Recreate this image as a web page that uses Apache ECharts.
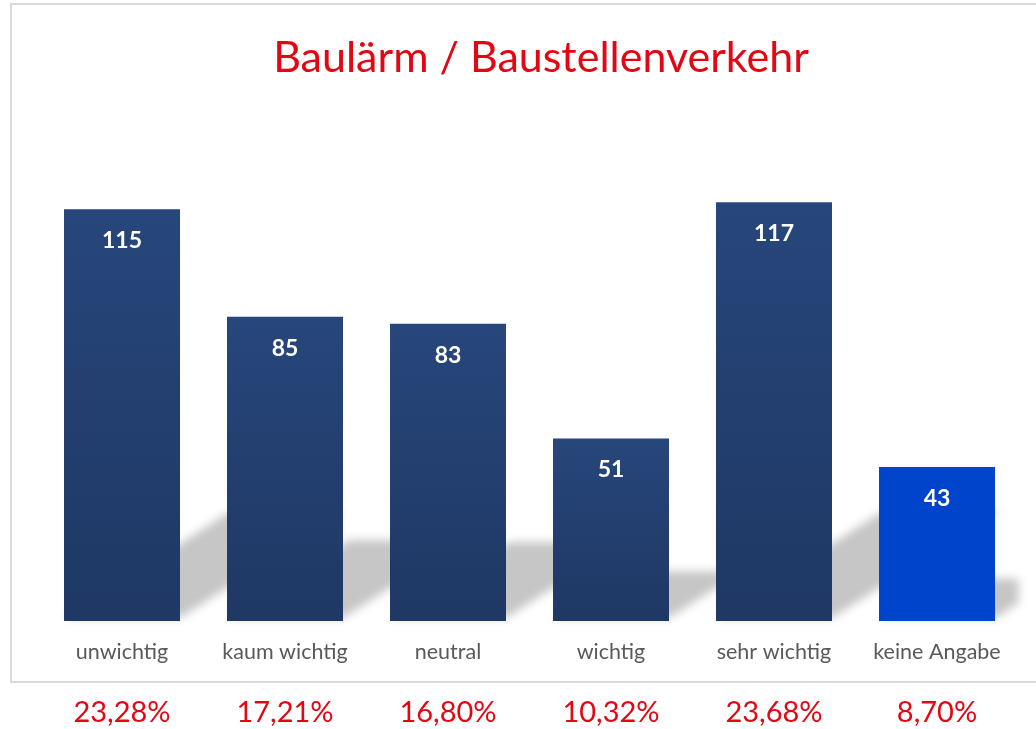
<!DOCTYPE html>
<html>
<head>
<meta charset="utf-8">
<title>Baulärm / Baustellenverkehr</title>
<script src="https://cdn.jsdelivr.net/npm/echarts@6/dist/echarts.min.js"></script>
<style>
  html, body { margin: 0; padding: 0; background: #fff; }
  #chart { width: 1036px; height: 729px; }
</style>
</head>
<body>
<div id="chart"></div>
<script>
// Werte aus der Grafik
const categories = ['unwichtig', 'kaum wichtig', 'neutral', 'wichtig', 'sehr wichtig', 'keine Angabe']
const counts = [115, 85, 83, 51, 117, 43]
const percents = ['23,28%', '17,21%', '16,80%', '10,32%', '23,68%', '8,70%']

const chart = echarts.init(document.getElementById('chart'))

const barWidth = 116
const navy = new echarts.graphic.LinearGradient(0, 0, 0, 1, [
  { offset: 0, color: '#27467b' },
  { offset: 1, color: '#1f3864' },
])

// Polygon an senkrechter Linie x = maxX abschneiden
function clipRight(points, maxX) {
  const out = []
  for (let k = 0; k < points.length; k++) {
    const p = points[k]
    const q = points[(k + 1) % points.length]
    const pin = p[0] <= maxX
    const qin = q[0] <= maxX
    if (pin) out.push(p)
    if (pin !== qin) {
      const t = (maxX - p[0]) / (q[0] - p[0])
      out.push([maxX, p[1] + t * (q[1] - p[1])])
    }
  }
  return out
}

// Schatten hinter den Balken (perspektivisch nach rechts oben, weichgezeichnet)
const far = 3000
function renderShadow(params, api) {
  const i = api.value(0)
  const base = api.coord([i, 0])
  const top = api.coord([i, api.value(1)])
  const h = base[1] - top[1]
  const L = base[0] - barWidth / 2
  const R = base[0] + barWidth / 2
  const B = base[1] - 3
  const dx = 0.4 * h
  const dy = 0.256 * h
  const maxX = params.coordSys.x + params.coordSys.width
  const pts = clipRight(
    [
      [L, B],
      [R, B],
      [R + dx, B - dy],
      [L + dx, B - dy],
    ],
    maxX
  ).map((p) => [p[0] - far, p[1]])
  return {
    type: 'polygon',
    shape: { points: pts },
    style: {
      fill: '#000',
      shadowBlur: 10,
      shadowOffsetX: far,
      shadowColor: '#c6c6c6',
    },
  }
}

const option = {
  animation: false,
  textStyle: { fontFamily: 'Lato' },
  title: {
    text: 'Baulärm / Baustellenverkehr',
    left: 536,
    top: 32,
    textAlign: 'center',
    textStyle: {
      color: '#e30613',
      fontSize: 43,
      fontWeight: 'normal',
      fontFamily: 'Lato',
    },
  },
  graphic: [
    {
      type: 'rect',
      z: -10,
      shape: { x: 11, y: 4, width: 1060, height: 678 },
      style: { fill: 'none', stroke: '#d9d9d9', lineWidth: 2 },
    },
  ],
  grid: {
    left: 40.5,
    right: 17.5,
    top: 84,
    bottom: 108,
    containLabel: false,
  },
  xAxis: [
    {
      type: 'category',
      data: categories,
      axisLine: { show: false },
      axisTick: { show: false },
      axisLabel: {
        interval: 0,
        hideOverlap: false,
        color: '#595959',
        fontSize: 21.5,
        margin: 20,
        fontFamily: 'Lato',
      },
    },
    {
      type: 'category',
      position: 'bottom',
      offset: 70,
      data: percents,
      axisLine: { show: false },
      axisTick: { show: false },
      axisLabel: {
        interval: 0,
        color: '#e30613',
        fontSize: 29,
        margin: 7,
        fontFamily: 'Lato',
      },
    },
  ],
  yAxis: {
    type: 'value',
    min: 0,
    max: 150,
    show: false,
    splitLine: { show: false },
  },
  series: [
    {
      type: 'custom',
      renderItem: renderShadow,
      clip: false,
      z: 1,
      silent: true,
      data: counts.map((v, i) => [i, v]),
    },
    {
      type: 'bar',
      z: 2,
      barWidth: barWidth,
      data: counts.map((v, i) => ({
        value: v,
        itemStyle: { color: i === counts.length - 1 ? '#0044cc' : navy },
      })),
      label: {
        show: true,
        position: 'insideTop',
        distance: 20,
        color: '#fff',
        fontSize: 23,
        fontWeight: 'bold',
        fontFamily: 'Lato',
      },
    },
  ],
}

chart.setOption(option)
window.onresize = chart.resize
</script>
</body>
</html>
